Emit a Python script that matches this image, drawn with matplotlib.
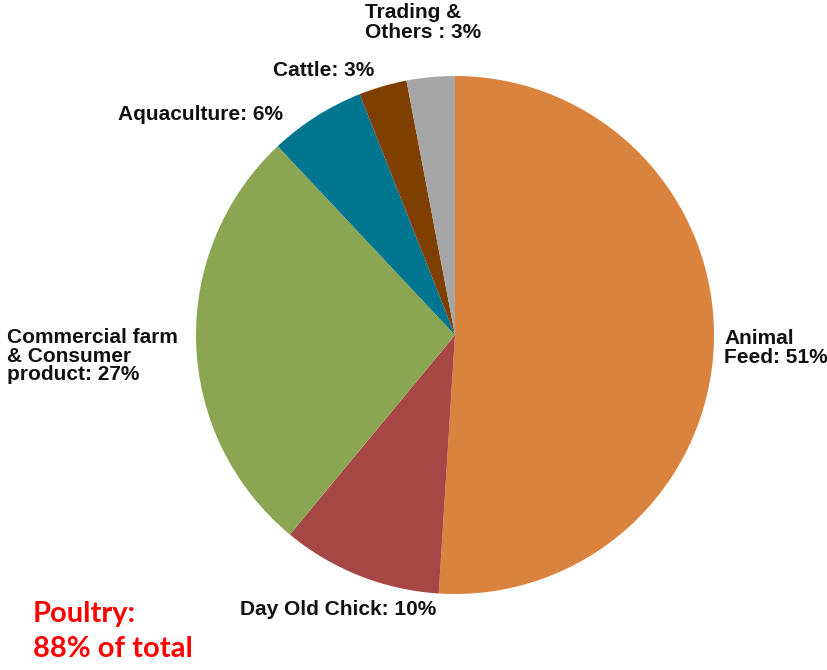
import matplotlib
matplotlib.use("Agg")
import matplotlib.pyplot as plt

categories = ["Animal Feed", "Day Old Chick", "Commercial farm & Consumer product",
              "Aquaculture", "Cattle", "Trading & Others"]
values = [51, 10, 27, 6, 3, 3]
labels = ["Animal\nFeed: 51%", "Day Old Chick: 10%", "Commercial farm\n& Consumer\nproduct: 27%",
          "Aquaculture: 6%", "Cattle: 3%", "Trading &\nOthers : 3%"]
colors = ["#D9833F", "#A64745", "#8AA652", "#007590", "#7E3F00", "#A6A6A6"]
note = "Poultry:\n88% of total"

W, H = 827, 670
fig = plt.figure(figsize=(W / 100, H / 100), dpi=100)
cx, cy, r = 455, 335, 259
ax = fig.add_axes([(cx - r) / W, (H - cy - r) / H, 2 * r / W, 2 * r / H])
ax.pie(values, colors=colors, startangle=90, counterclock=False, radius=1,
       wedgeprops=dict(linewidth=0))
ax.set_xlim(-1, 1)
ax.set_ylim(-1, 1)
ax.set_aspect("equal")
ax.axis("off")

def px(x, y):
    return x / W, 1 - y / H

lab_pos = [(724, 329), (240, 600), (7, 328), (118, 105), (273, 61), (365, 3)]
spacing = [0.98, 1.0, 0.98, 1.0, 1.0, 1.1]
for lab, (x, y), ls in zip(labels, lab_pos, spacing):
    fig.text(*px(x, y), lab, ha="left", va="top", fontsize=15, fontweight="bold",
             family="Liberation Sans", color="#111111", linespacing=ls)

fig.text(*px(33, 601), note, ha="left", va="top", fontsize=21, fontweight="bold",
         family="Lato", color="#FF0000", linespacing=1.45)

fig.savefig("out.png", dpi=100)
